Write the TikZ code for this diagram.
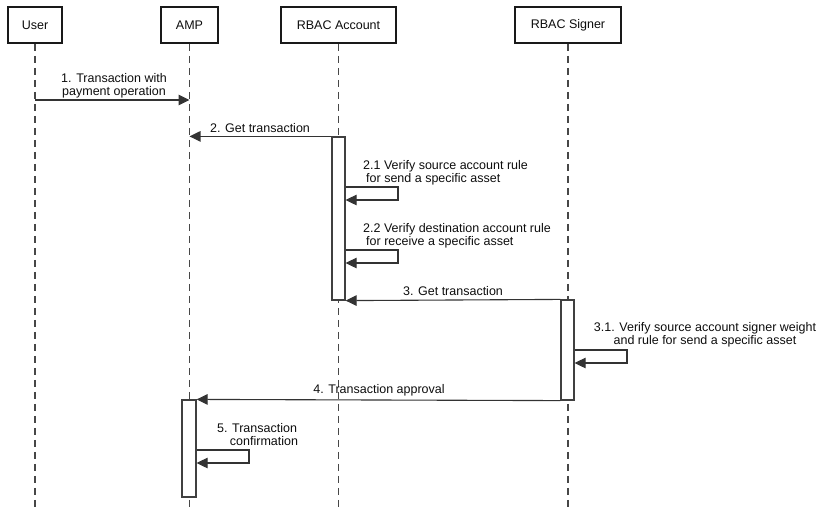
\documentclass[tikz,border=0pt]{standalone}
\usepackage{fontspec}
\setmainfont{Liberation Sans}
\usetikzlibrary{arrows.meta}
\begin{document}
\begin{tikzpicture}[x=1pt,y=-1pt,
  every node/.style={font=\fontsize{12.5}{13.5}\selectfont, text=black!95},
  actor/.style={draw=black!90, line width=1.9pt, fill=white, minimum height=36pt, inner sep=0pt},
  lifeline/.style={draw=black!72, line width=1.2pt, dash pattern=on 7pt off 5pt},
  bar/.style={draw=black!75, line width=1.2pt, fill=white, inner sep=0pt, minimum width=13pt},
  msg/.style={draw=black!80, line width=1.1pt, -{Triangle[length=11pt,width=10.5pt]}},
  lbl/.style={inner sep=0pt, anchor=north, align=center}
]
\useasboundingbox (0,0) rectangle (820,507);

% participants
\node[actor, minimum width=54pt]  (user) at (35,25)    {User};
\node[actor, minimum width=57pt]  (amp)  at (189.5,25) {AMP};
\node[actor, minimum width=115pt] (acc)  at (338.5,25) {RBAC Account};
\node[actor, minimum width=106pt] (sig)  at (568,25)   {RBAC Signer};

% lifeline ends
\coordinate (userEnd) at (user.south |- 0,507);
\coordinate (ampEnd)  at (amp.south |- 0,507);
\coordinate (accEnd)  at (acc.south |- 0,507);
\coordinate (sigEnd)  at (sig.south |- 0,507);
\draw[lifeline] (user.south) -- (userEnd);
\draw[lifeline] (amp.south) -- (ampEnd);
\draw[lifeline] (acc.south) -- (accEnd);
\draw[lifeline] (sig.south) -- (sigEnd);

% activation bars
\node[bar, minimum height=163pt] (accBar) at (338.5,218.5) {};
\node[bar, minimum height=100pt] (sigBar) at (567.5,350)   {};
\node[bar, minimum width=14pt, minimum height=97pt] (ampBar) at (189,448.5) {};

% 1. user -> AMP
\coordinate (m1s) at (user.south |- 0,100);
\coordinate (m1e) at (amp.south |- 0,100);
\draw[msg] (m1s) -- (m1e);
\node[lbl] (l1) at (114,73) {1. Transaction with\\payment operation};

% 2. account -> AMP
\coordinate (m2e) at (amp.south |- accBar.north);
\draw[msg] (accBar.north west) -- (m2e);
\node[lbl] (l2) at (260,123) {2. Get transaction};

% 2.1 self call
\coordinate (s1a) at (accBar.east |- 0,187);
\coordinate (s1b) at (398,187);
\coordinate (s1c) at (398,200);
\coordinate (s1d) at (accBar.east |- 0,200);
\draw[msg] (s1a) -- (s1b) -- (s1c) -- (s1d);
\node[inner sep=0pt, anchor=north west, align=left] (l21) at (363,160)
  {2.1 Verify source account rule\\\hspace*{3pt}for send a specific asset};

% 2.2 self call
\coordinate (s2a) at (accBar.east |- 0,250);
\coordinate (s2b) at (398,250);
\coordinate (s2c) at (398,263);
\coordinate (s2d) at (accBar.east |- 0,263);
\draw[msg] (s2a) -- (s2b) -- (s2c) -- (s2d);
\node[inner sep=0pt, anchor=north west, align=left] (l22) at (363,223)
  {2.2 Verify destination account rule\\\hspace*{3pt}for receive a specific asset};

% 3. signer -> account
\draw[msg] (sigBar.north west) -- (accBar.south east);
\node[lbl] (l3) at (453,286) {3. Get transaction};

% 3.1 self call
\coordinate (s3a) at (sigBar.east |- 0,350);
\coordinate (s3b) at (627,350);
\coordinate (s3c) at (627,363);
\coordinate (s3d) at (sigBar.east |- 0,363);
\draw[msg] (s3a) -- (s3b) -- (s3c) -- (s3d);
\node[lbl] (l31) at (705,322) {3.1. Verify source account signer weight\\and rule for send a specific asset};

% 4. signer -> AMP
\draw[msg] (sigBar.south west) -- (ampBar.north east);
\node[lbl] (l4) at (379,384) {4. Transaction approval};

% 5. self call
\coordinate (s5a) at (ampBar.east |- 0,450);
\coordinate (s5b) at (249,450);
\coordinate (s5c) at (249,463);
\coordinate (s5d) at (ampBar.east |- 0,463);
\draw[msg] (s5a) -- (s5b) -- (s5c) -- (s5d);
\node[lbl] (l5) at (257,423) {5. Transaction\\\hspace*{14pt}confirmation};
\end{tikzpicture}
\end{document}
